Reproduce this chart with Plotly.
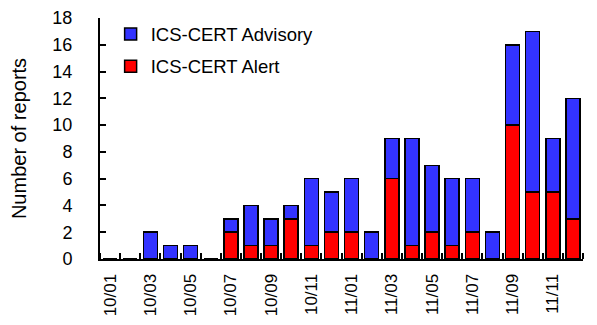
import plotly.graph_objects as go

months = ["10/01","10/02","10/03","10/04","10/05","10/06","10/07","10/08","10/09","10/10","10/11","10/12",
          "11/01","11/02","11/03","11/04","11/05","11/06","11/07","11/08","11/09","11/10","11/11","11/12"]
alert =    [0,0,0,0,0,0,2,1,1,3,1,2, 2,0,6,1,2,1,2,0,10,5,5,3]
advisory = [0,0,2,1,1,0,1,3,2,1,5,3, 4,2,3,8,5,5,4,2,6,12,4,9]

x = list(range(len(months)))
tickpos = x[::2]
ticklab = months[::2]

fig = go.Figure()
fig.add_bar(x=x, y=alert, name="ICS-CERT Alert", legendgroup="a", legendrank=2,
            marker=dict(color="#FF0000", line=dict(color="black", width=1.5)))
fig.add_bar(x=x, y=advisory, name="ICS-CERT Advisory", legendgroup="b", legendrank=1,
            marker=dict(color="#3333FF", line=dict(color="black", width=1.5)))

fig.update_layout(
    barmode="stack", bargap=0.3,
    width=597, height=325,
    margin=dict(l=92, r=22, t=10, b=74, autoexpand=False),
    paper_bgcolor="white", plot_bgcolor="white",
    font=dict(family="Liberation Sans, Arial", size=17, color="black"),
    showlegend=True,
    legend=dict(x=0.022, y=1.01, xanchor="left", yanchor="top", traceorder="grouped",
                bgcolor="rgba(0,0,0,0)", font=dict(size=18.5), itemwidth=30,
                tracegroupgap=5),
)
fig.update_xaxes(range=[-0.5, len(months)-0.5], tickmode="array", tickvals=tickpos, ticktext=ticklab,
                 tickangle=-90, ticks="", showline=True, linecolor="black", linewidth=2,
                 showgrid=False, zeroline=False, automargin=False, ticklabelstandoff=6,
                 tickfont=dict(size=17),
                 minor=dict(ticks="inside", tick0=0.5, dtick=1, ticklen=6, tickcolor="black", tickwidth=1.5, showgrid=False))
fig.update_yaxes(range=[0, 18], tickmode="linear", tick0=0, dtick=2, ticks="inside", ticklen=6,
                 tickwidth=1.5, tickcolor="black", showline=True, linecolor="black", linewidth=2,
                 showgrid=False, zeroline=False, automargin=False, ticklabelstandoff=22,
                 tickfont=dict(size=18),
                 title=dict(text="Number of reports", standoff=20))

fig.write_html("out.html")
